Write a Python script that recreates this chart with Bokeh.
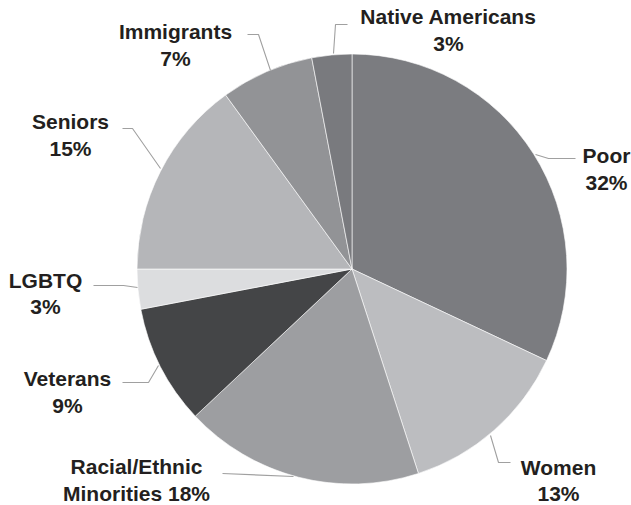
import numpy as np
from bokeh.plotting import figure
from bokeh.models import ColumnDataSource, Range1d
from bokeh.core.properties import value
from bokeh.embed import file_html
from bokeh.resources import INLINE

# ---- data ----
categories = ["Poor", "Women", "Racial/Ethnic\nMinorities", "Veterans", "LGBTQ",
              "Seniors", "Immigrants", "Native Americans"]
percents = [32, 13, 18, 9, 3, 15, 7, 3]

# ---- styles / layout ----
colors = ["#7b7c80", "#bcbdc0", "#9d9ea1", "#444547", "#dcdddf",
          "#b5b6b9", "#929396", "#797a7e"]
W, H = 631, 505
CX, CY, R = 351.5, 268.5, 215      # pixel coords (y down)
# label block centres (pixel coords, y down)
label_xy = [(606, 168.5), (558, 480), (136, 479.5), (67, 391.5),
            (45, 293), (70, 134.5), (175, 44.5), (448, 29.5)]
pct_sep = ["\n", "\n", " ", "\n", "\n", "\n", "\n", "\n"]
# leader line paths (pixel coords, y down)
leaders = [
    [(535, 154), (548, 158), (575, 158)],
    [(490, 435), (498, 462), (510, 462)],
    [(293, 476), (222, 473)],
    [(158, 365), (148, 382), (122, 382)],
    [(137, 287), (123, 285), (93, 285)],
    [(160, 168), (132, 128), (122, 128)],
    [(270, 70), (258, 34), (247, 34)],
    [(333, 53), (335, 24), (347, 24)],
]

vals = np.array(percents, dtype=float)
frac = vals / vals.sum()
cum = np.concatenate([[0], np.cumsum(frac)])
start = np.pi / 2 - cum[:-1] * 2 * np.pi
end = np.pi / 2 - cum[1:] * 2 * np.pi

wedges = ColumnDataSource(dict(start=start, end=end, color=colors))

p = figure(width=W, height=H, output_backend="svg", toolbar_location=None,
           x_range=Range1d(0, W), y_range=Range1d(0, H), min_border=0)
p.axis.visible = False
p.grid.visible = False
p.outline_line_color = None
p.background_fill_color = "white"
p.border_fill_color = "white"

p.wedge(x=CX, y=H - CY, radius=R, start_angle="start", end_angle="end",
        direction="clock", fill_color="color", line_color="white",
        line_width=0.6, source=wedges)

p.multi_line(xs=[[pt[0] for pt in l] for l in leaders],
             ys=[[H - pt[1] for pt in l] for l in leaders],
             line_color="#a0a0a0", line_width=1.1)

texts = [c + s + f"{v}%" for c, s, v in zip(categories, pct_sep, percents)]
labels = ColumnDataSource(dict(x=[xy[0] for xy in label_xy],
                               y=[H - xy[1] for xy in label_xy],
                               text=texts))
p.text(x="x", y="y", text="text", source=labels, text_align="center",
       text_baseline="middle", text_font=value("Liberation Sans"),
       text_font_style="bold", text_font_size="21px", text_color="#231f20",
       text_line_height=1.15)

open("out.html", "w").write(file_html(p, INLINE))
